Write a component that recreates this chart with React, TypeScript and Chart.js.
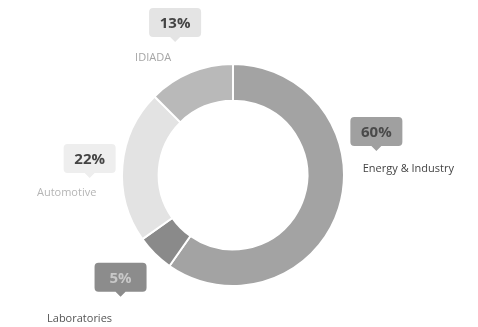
import React, { useEffect, useRef } from "react";
import { Chart, registerables } from "chart.js";

Chart.register(...registerables);

const categories = ["Energy & Industry", "Laboratories", "Automotive", "IDIADA"];
const values = [59.7, 5.5, 22.3, 12.5];
const percentLabels = ["60%", "5%", "22%", "13%"];
const segmentColors = ["#a3a3a3", "#8a8a8a", "#e3e3e3", "#b9b9b9"];
const boxColors = ["#a0a0a0", "#8c8c8c", "#eeeeee", "#e4e4e4"];
const boxTextColors = ["#4a4a4a", "#c8c8c8", "#444444", "#444444"];
const labelColors = ["#444444", "#555555", "#b5b5b5", "#a5a5a5"];

const calloutPlugin = {
  id: "callouts",
  afterDatasetsDraw(chart: any, _args: any, opts: any) {
    const ctx = chart.ctx;
    const meta = chart.getDatasetMeta(0);
    meta.data.forEach((arc: any, i: number) => {
      const { x, y, startAngle, endAngle, outerRadius } = arc.getProps(
        ["x", "y", "startAngle", "endAngle", "outerRadius"],
        true
      );
      const mid = (startAngle + endAngle) / 2 + (opts.angleShift[i] || 0);
      const r = outerRadius * opts.distance[i];
      const bx = x + Math.cos(mid) * r;
      const by = y + Math.sin(mid) * r;
      ctx.save();
      ctx.font = "bold 15px 'Open Sans'";
      const tw = ctx.measureText(percentLabels[i]).width;
      const w = Math.max(tw + 14, 52);
      const h = 29;
      const left = bx - w / 2;
      const top = by - h / 2;
      ctx.fillStyle = boxColors[i];
      ctx.beginPath();
      const rr = 4;
      ctx.moveTo(left + rr, top);
      ctx.lineTo(left + w - rr, top);
      ctx.quadraticCurveTo(left + w, top, left + w, top + rr);
      ctx.lineTo(left + w, top + h - rr);
      ctx.quadraticCurveTo(left + w, top + h, left + w - rr, top + h);
      ctx.lineTo(bx + 5, top + h);
      ctx.lineTo(bx, top + h + 5);
      ctx.lineTo(bx - 5, top + h);
      ctx.lineTo(left + rr, top + h);
      ctx.quadraticCurveTo(left, top + h, left, top + h - rr);
      ctx.lineTo(left, top + rr);
      ctx.quadraticCurveTo(left, top, left + rr, top);
      ctx.closePath();
      ctx.fill();
      ctx.fillStyle = boxTextColors[i];
      ctx.textAlign = "center";
      ctx.textBaseline = "middle";
      ctx.fillText(percentLabels[i], bx, by + 1);
      ctx.font = "11px 'Open Sans'";
      ctx.fillStyle = labelColors[i];
      ctx.fillText(categories[i], bx + opts.textDx[i], by + opts.textDy[i]);
      ctx.restore();
    });
  },
};

export default function App() {
  const ref = useRef<HTMLCanvasElement>(null);
  useEffect(() => {
    document.body.style.margin = "0";
    const chart = new Chart(ref.current!, {
      type: "doughnut",
      data: {
        labels: categories,
        datasets: [
          {
            data: values,
            backgroundColor: segmentColors,
            borderColor: "#ffffff",
            borderWidth: 2,
          },
        ],
      },
      options: {
        animation: false,
        responsive: false,
        cutout: "67%",
        layout: { padding: { left: 121, right: 133, top: 63, bottom: 40 } },
        plugins: {
          legend: { display: false },
          tooltip: { enabled: false },
          callouts: {
            distance: [1.35, 1.37, 1.3, 1.47],
            angleShift: [-0.6, 0.05, 0.03, 0.03],
            textDx: [32, -41, -23, -22],
            textDy: [37, 41, 34, 35],
          },
        } as any,
      },
      plugins: [calloutPlugin],
    });
    return () => chart.destroy();
  }, []);
  return (
    <div style={{ position: "absolute", left: 0, top: 0, width: 478, height: 327, background: "#fff" }}>
      <canvas ref={ref} width={478} height={327} />
    </div>
  );
}
